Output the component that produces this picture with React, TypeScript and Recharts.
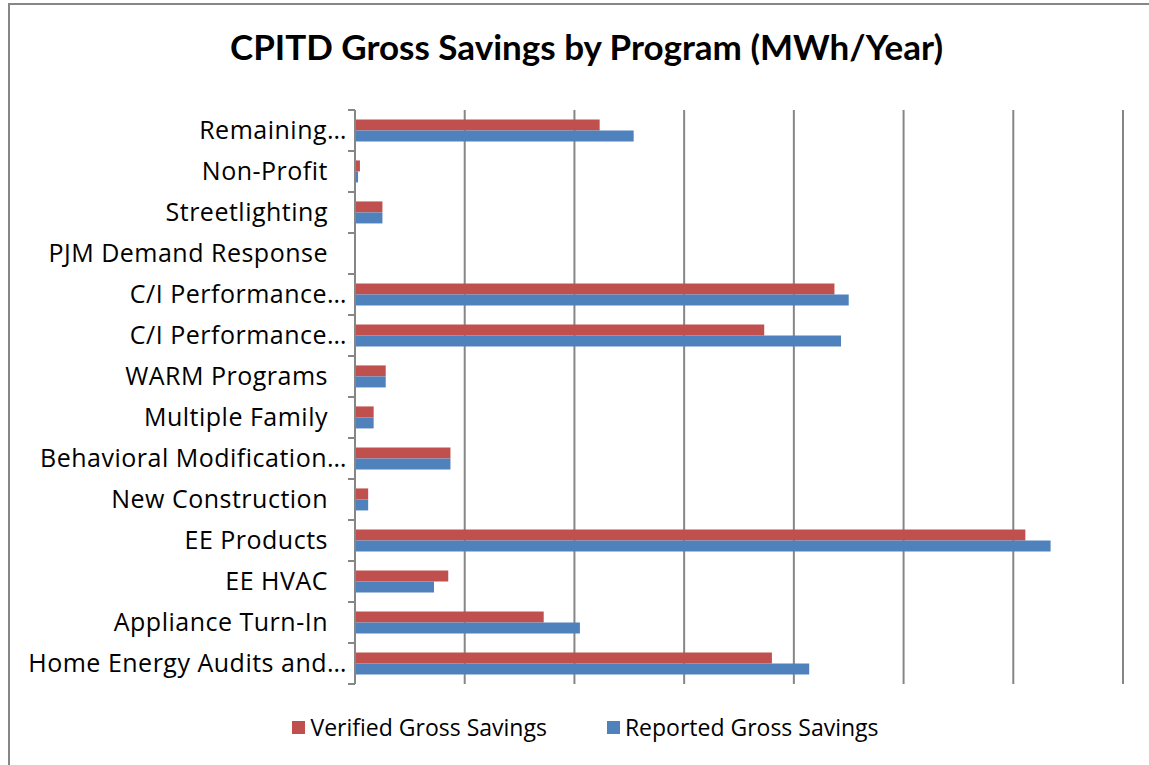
import { BarChart, Bar, XAxis, YAxis, CartesianGrid, Legend } from "recharts";

const programs = [
  "Remaining…",
  "Non-Profit",
  "Streetlighting",
  "PJM Demand Response",
  "C/I Performance…",
  "C/I Performance…",
  "WARM Programs",
  "Multiple Family",
  "Behavioral Modification…",
  "New Construction",
  "EE Products",
  "EE HVAC",
  "Appliance Turn-In",
  "Home Energy Audits and…",
];

const verified = [22300, 450, 2500, 0, 43700, 37300, 2800, 1700, 8700, 1200, 61100, 8500, 17200, 38000];
const reported = [25400, 280, 2500, 0, 45000, 44300, 2800, 1700, 8700, 1200, 63400, 7200, 20500, 41400];

const xTicks = [0, 10000, 20000, 30000, 40000, 50000, 60000, 70000];

const data = programs.map((p, i) => ({
  program: p,
  verified: verified[i],
  reported: reported[i],
}));

const W = 1141;
const H = 762;
const MARGIN = { top: 107, right: 26, bottom: 81, left: 0 };
const BAND = (H - MARGIN.top - MARGIN.bottom) / programs.length;
const FONT = "'Open Sans', Lato, sans-serif";

function ProgramTick(props: any) {
  const { x, y, payload, index } = props;
  const label: string = payload.value;
  const axisX = x + 8;
  const textX = label.endsWith("…") ? axisX - 8 : axisX - 27;
  return (
    <g>
      <line x1={axisX - 7} x2={axisX} y1={y - BAND / 2} y2={y - BAND / 2} stroke="#868686" strokeWidth={2} />
      {index === programs.length - 1 && (
        <line x1={axisX - 7} x2={axisX} y1={y + BAND / 2} y2={y + BAND / 2} stroke="#868686" strokeWidth={2} />
      )}
      <text
        x={textX}
        y={y}
        dy={8}
        textAnchor="end"
        fontSize={25}
        letterSpacing={0.5}
        fill="#000"
        fontFamily={FONT}
      >
        {label}
      </text>
    </g>
  );
}

function LegendContent() {
  const items = [
    { name: "Verified Gross Savings", color: "#C0504D" },
    { name: "Reported Gross Savings", color: "#4F81BD" },
  ];
  return (
    <div style={{ display: "flex", justifyContent: "center", gap: 60, fontFamily: FONT, fontSize: 23 }}>
      {items.map((it) => (
        <div key={it.name} style={{ display: "flex", alignItems: "center" }}>
          <span style={{ width: 13, height: 13, background: it.color, display: "inline-block", marginRight: 5 }} />
          <span>{it.name}</span>
        </div>
      ))}
    </div>
  );
}

export default function App() {
  return (
    <div
      style={{
        position: "absolute",
        left: 8,
        top: 3,
        width: W,
        height: H,
        borderTop: "2px solid #868686",
        borderLeft: "2px solid #868686",
        background: "#fff",
        overflow: "hidden",
        boxSizing: "border-box",
      }}
    >
      <div
        style={{
          position: "absolute",
          top: 20,
          left: 10,
          width: W - 8,
          textAlign: "center",
          fontFamily: "Lato, sans-serif",
          fontWeight: "bold",
          fontSize: 35,
          color: "#000",
        }}
      >
        CPITD Gross Savings by Program (MWh/Year)
      </div>
      <div style={{ position: "absolute", left: -2, top: -2 }}>
        <BarChart
          width={W}
          height={H}
          data={data}
          layout="vertical"
          margin={MARGIN}
          barCategoryGap="23%"
          barGap={0}
        >
          <CartesianGrid horizontal={false} stroke="#868686" strokeWidth={2} />
          <XAxis type="number" domain={[0, 70000]} ticks={xTicks} hide />
          <YAxis
            type="category"
            dataKey="program"
            width={347}
            axisLine={{ stroke: "#868686", strokeWidth: 2 }}
            tickLine={false}
            tick={<ProgramTick />}
            interval={0}
            allowDuplicatedCategory
          />
          <Legend
            layout="horizontal"
            verticalAlign="middle"
            content={<LegendContent />}
            wrapperStyle={{ top: 708, left: 11, width: W - 8 }}
          />
          <Bar dataKey="verified" name="Verified Gross Savings" fill="#C0504D" isAnimationActive={false} />
          <Bar dataKey="reported" name="Reported Gross Savings" fill="#4F81BD" isAnimationActive={false} />
        </BarChart>
      </div>
    </div>
  );
}
